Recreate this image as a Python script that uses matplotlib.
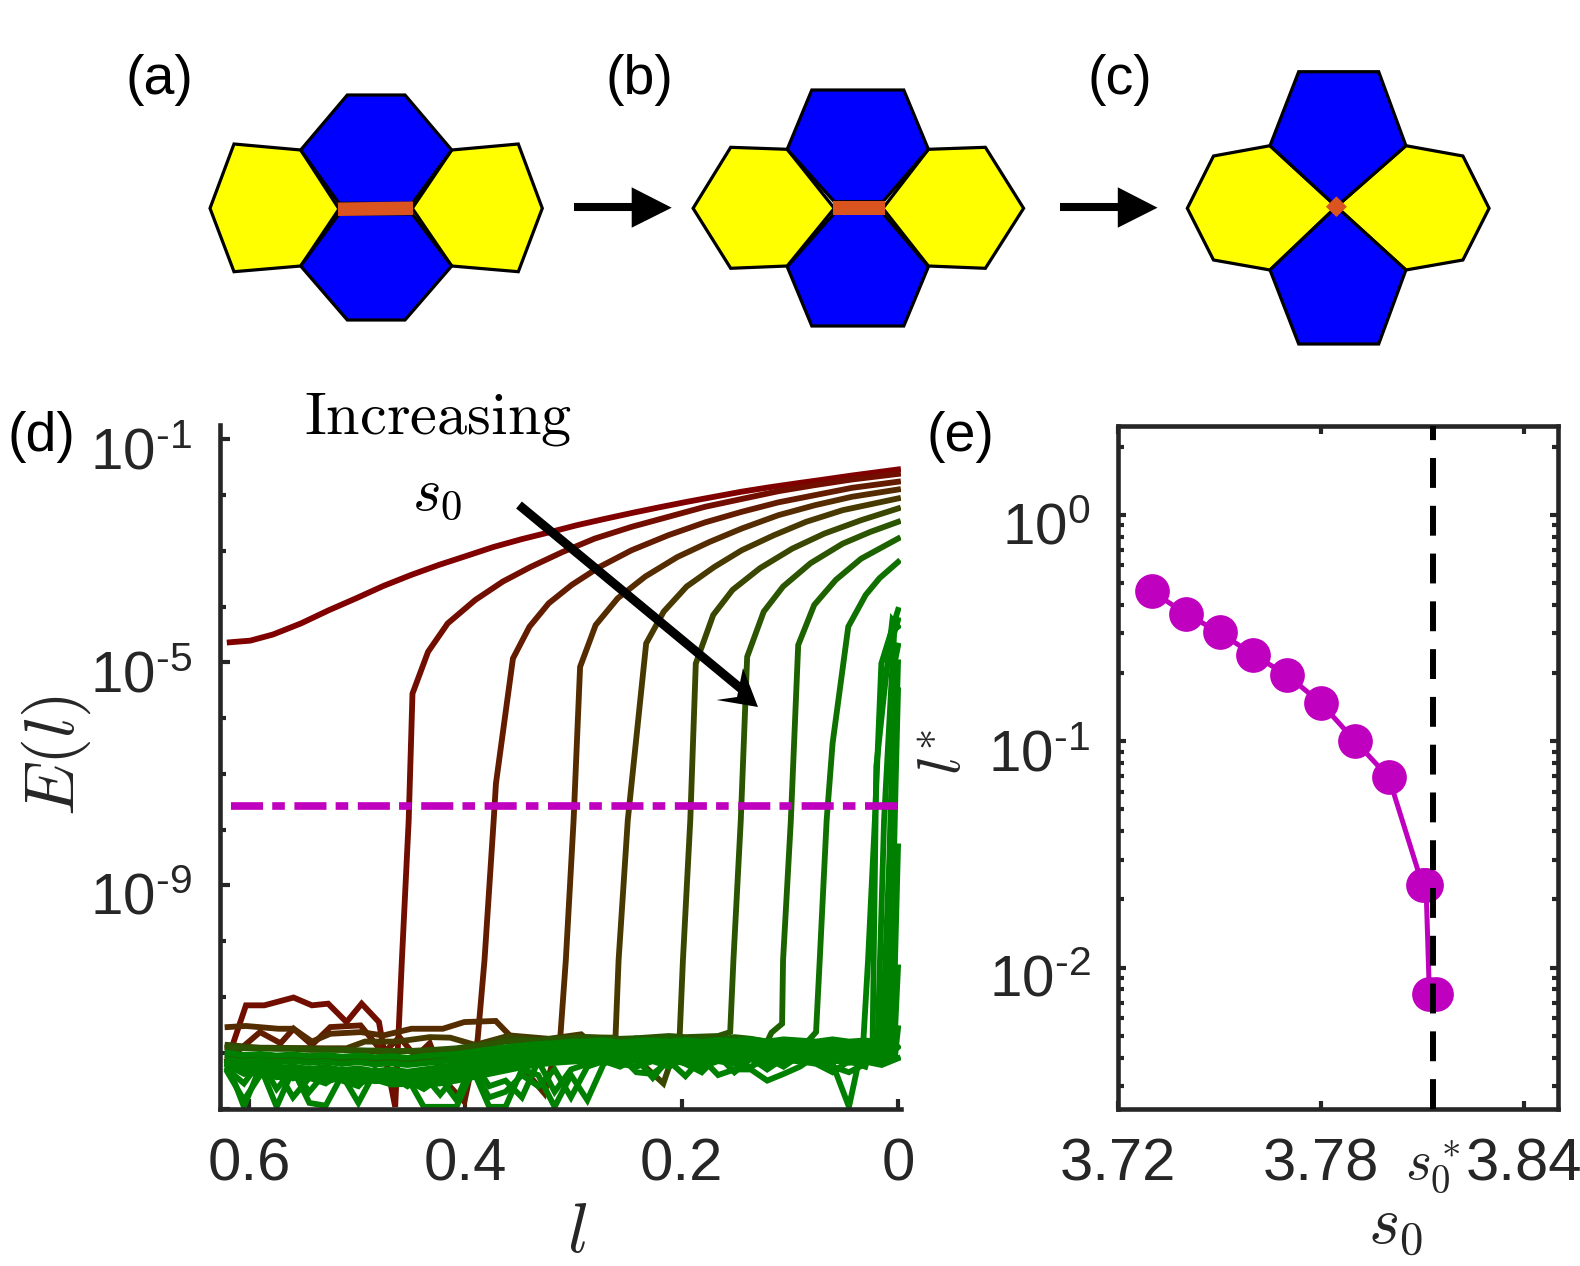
import numpy as np
import matplotlib
matplotlib.use("Agg")
import matplotlib.pyplot as plt
from matplotlib.patches import Polygon
from matplotlib.transforms import ScaledTranslation

plt.rcParams['font.family'] = ['Liberation Sans', 'DejaVu Sans']
plt.rcParams['mathtext.fontset'] = 'custom'
plt.rcParams['mathtext.rm'] = 'Liberation Sans'
plt.rcParams['mathtext.it'] = 'Liberation Sans:italic'
plt.rcParams['mathtext.bf'] = 'Liberation Sans:bold'
plt.rcParams['mathtext.fallback'] = 'cm'

INK = '#262626'
MAGENTA = '#bf00bf'
BLUE = '#0000ff'
YELLOW = '#ffff00'
ORANGE = '#d9541e'

# ---- panel (e) data
s0_values = [3.73, 3.74, 3.75, 3.76, 3.77, 3.78, 3.79, 3.80, 3.81, 3.811, 3.812, 3.814]
lstar_values = [0.46, 0.367, 0.303, 0.2415, 0.196, 0.1475, 0.1005, 0.0693, 0.0231, 0.0231, 0.00764, 0.00764]
s0_star = 3.813

# ---- panel (d) data: upper branches (l, log10 E)
c1_l = [.618, .599, .578, .552, .527, .501, .476, .450, .425, .399, .374, .348, .323, .297, .272, .246, .221, .195, .170, .145, .119, .094, .068, .043, 0]
c1_log = [-4.64, -4.61, -4.50, -4.30, -4.07, -3.85, -3.63, -3.43, -3.255, -3.09, -2.93, -2.79, -2.67, -2.54, -2.43, -2.32, -2.22, -2.12, -2.03, -1.94, -1.86, -1.79, -1.72, -1.65, -1.54]
c2_l = [.465, .4588, .4525, .449, .4346, .4164, .3909, .3654, .3399, .3102, .2805, .2465, .2125, .1785, .1446, .1106, .0766, .0426, 0]
c2_log = [-12.97, -10.34, -7.83, -5.56, -4.81, -4.30, -3.88, -3.55, -3.29, -3.02, -2.78, -2.57, -2.39, -2.21, -2.07, -1.93, -1.82, -1.72, -1.62]
c3_l = [.3888, .3824, .3739, .3718, .3561, .3408, .323, .3017, .2762, .2465, .2125, .1785, .1446, .1106, .0766, .0426, 0]
c3_log = [-11.77, -10.34, -7.83, -7.17, -4.93, -4.36, -3.94, -3.61, -3.29, -2.99, -2.72, -2.49, -2.30, -2.13, -2.0, -1.87, -1.76]
c4_l = [.3123, .3072, .3, .294, .2796, .2592, .2337, .204, .1743, .1446, .1106, .0766, .0426, 0]
c4_log = [-11.72, -10.34, -7.83, -5.08, -4.33, -3.85, -3.46, -3.11, -2.84, -2.6, -2.36, -2.18, -2.03, -1.90]
c5_l = [.2613, .2584, .2499, .2329, .2167, .1955, .1700, .1446, .1148, .0851, .0511, 0]
c5_log = [-11.74, -10.34, -7.83, -4.66, -4.09, -3.64, -3.29, -2.99, -2.72, -2.48, -2.27, -2.06]
c6_l = [.2019, .1989, .1921, .187, .1709, .153, .1276, .0978, .0681, .0341, 0]
c6_log = [-11.69, -10.34, -7.83, -5.02, -4.15, -3.70, -3.31, -2.96, -2.69, -2.45, -2.24]
c7_l = [.1552, .1522, .1454, .1395, .1242, .1063, .0808, .0511, .0256, 0]
c7_log = [-11.63, -10.34, -7.83, -4.90, -4.09, -3.64, -3.22, -2.87, -2.66, -2.48]
c8_l = [.1170, .1072, .1063, .0991, .0923, .0775, .0575, .0341, 0]
c8_log = [-11.64, -11.48, -10.34, -7.83, -4.69, -3.97, -3.52, -3.14, -2.78]
c9_l = [.0758, .0724, .0660, .0605, .0460, .0299, .0171, 0]
c9_log = [-11.63, -10.34, -7.83, -6.45, -4.36, -3.79, -3.49, -3.20]
c10_l = [.0320, .0277, .0214, .0154, 0]
c10_log = [-11.77, -10.34, -7.83, -5.02, -4.06]
c11_l = [.0235, .0201, .0129, .0052, 0]
c11_log = [-11.8, -6.87, -5.56, -4.24, -4.36]
c12_l = [.019, .0129, .0036, 0]
c12_log = [-11.9, -7.83, -4.48, -4.24]
c13_l = [.015, .008, .003, 0]
c13_log = [-12.0, -8.5, -5.0, -4.7]
c14_l = [.010, .003, 0]
c14_log = [-12.0, -7.0, -5.0]
c15_l = [.008, .002, 0]
c15_log = [-12.0, -7.0, -5.5]
c16_l = [.005, 0]
c16_log = [-12.0, -8.3]
c17_l = [.004, 0]
c17_log = [-12.1, -10.47]
c18_l = [.003, 0]
c18_log = [-12.1, -11.56]
c19_l = [0]
c19_log = [-11.9]
c20_l = [0]
c20_log = [-12.1]

# noise floor of the early curves (l, log10 E)
f2_l = [.620, .603, .586, .559, .542, .527, .510, .496, .480, .476]
f2_log = [-12.13, -11.15, -11.15, -11.01, -11.15, -11.12, -11.45, -11.12, -11.45, -11.89]
f3_l = [.620, .590, .571, .559, .542, .525, .497, .476, .461, .446, .433, .420, .401]
f3_log = [-12.13, -11.63, -11.83, -11.57, -11.86, -11.54, -11.51, -12.01, -11.72, -12.07, -11.83, -12.49, -12.88]
f4_l = [.620, .603, .573, .559, .542, .525, .497, .476, .450, .421, .401, .372, .359, .348, .327, .319]
f4_log = [-11.54, -11.52, -11.57, -11.57, -11.80, -11.66, -11.63, -11.69, -11.57, -11.57, -11.45, -11.43, -11.69, -12.25, -12.73, -12.13]
f5_l = [.620, .582, .548, .510, .493, .463, .433, .414, .391, .359, .323, .293, .276]
f5_log = [-11.91, -11.91, -11.92, -11.92, -11.80, -11.80, -11.72, -11.73, -11.86, -11.69, -11.75, -11.67, -11.95]
f6_l = [.620, .586, .544, .476, .416, .391, .361, .331, .293, .263, .217]
f6_log = [-11.86, -11.92, -11.92, -11.98, -11.95, -11.89, -11.72, -11.77, -11.72, -11.73, -12.55]

# noise floor of the later curves, sampled on floor_l
floor_l = np.linspace(0.62, 0.0, 42)
g1 = [-11.90,-11.92,-11.92,-11.93,-11.93,-11.95,-11.95,-11.95,-11.96,-11.96,-11.97,-11.97,-11.96,-11.94,-11.92,-11.88,-11.85,-11.80,-11.78,-11.78,-11.75,-11.73,-11.72,-11.74,-11.75,-11.74,-11.72,-11.70,-11.72,-11.71,-11.70,-11.68,-11.67,-11.68,-11.66,-11.67,-11.70,-11.68,-11.72,-11.72,-11.80,-11.72]
g2 = [-12.05,-12.10,-12.08,-12.10,-12.12,-12.08,-12.10,-12.12,-12.10,-12.12,-12.15,-12.12,-12.15,-12.12,-12.08,-12.05,-12.00,-11.95,-11.90,-11.85,-11.82,-11.80,-11.78,-11.76,-11.80,-11.74,-11.78,-11.72,-11.80,-11.75,-11.78,-11.72,-11.75,-11.80,-11.72,-11.78,-11.74,-11.80,-11.76,-11.78,-11.85,-11.80]
g3 = [-12.20,-12.25,-12.20,-12.30,-12.25,-12.32,-12.25,-12.35,-12.30,-12.35,-12.38,-12.40,-12.35,-12.28,-12.20,-12.15,-12.10,-12.05,-12.00,-11.95,-11.92,-11.90,-11.95,-12.00,-12.05,-12.15,-12.00,-12.25,-11.95,-12.15,-12.00,-11.90,-12.10,-12.00,-12.20,-11.95,-11.90,-12.10,-11.95,-12.20,-11.95,-12.10]
g4 = [-12.20,-12.97,-12.25,-12.97,-12.30,-12.90,-12.95,-12.40,-12.90,-12.35,-12.40,-12.45,-12.97,-12.97,-12.97,-12.30,-12.97,-12.97,-12.30,-12.40,-12.97,-12.40,-12.85,-12.20,-12.05,-12.35,-12.38,-12.15,-12.42,-12.10,-12.40,-12.30,-12.30,-12.50,-12.38,-12.25,-12.05,-12.20,-12.97,-12.40,-12.10,-12.30]
g5 = [-12.30,-12.55,-12.15,-12.65,-12.30,-12.70,-12.35,-12.50,-12.60,-12.30,-12.45,-12.50,-12.65,-12.45,-12.85,-12.15,-12.60,-12.50,-12.80,-12.15,-12.70,-12.30,-12.20,-12.15,-12.25,-12.10,-12.45,-12.10,-12.20,-12.35,-12.05,-12.35,-12.10,-12.30,-12.10,-12.15,-12.20,-12.35,-12.15,-12.25,-12.00,-12.20]
g6 = [-12.35,-12.85,-12.40,-12.30,-12.80,-12.45,-12.55,-12.35,-12.50,-12.45,-12.42,-12.60,-12.40,-12.75,-12.40,-12.30,-12.80,-12.70,-12.40,-12.60,-12.30,-12.80,-12.25,-12.15,-12.20,-12.25,-12.15,-12.25,-12.10,-12.25,-12.15,-12.20,-12.25,-12.10,-12.25,-12.05,-12.15,-12.25,-12.35,-12.20,-12.10,-12.25]
g7 = [-12.15,-12.30,-12.35,-12.25,-12.35,-12.30,-12.40,-12.30,-12.35,-12.40,-12.45,-12.35,-12.40,-12.30,-12.25,-12.30,-12.20,-12.15,-12.20,-12.05,-12.10,-12.00,-12.05,-11.95,-11.90,-11.98,-11.85,-12.00,-11.88,-12.00,-11.85,-12.00,-11.88,-12.05,-11.85,-11.90,-11.95,-12.10,-11.90,-12.10,-12.00,-11.95]
g8 = [-12.00,-12.04,-12.02,-12.05,-12.03,-12.06,-12.04,-12.07,-12.05,-12.08,-12.06,-12.09,-12.06,-12.04,-12.02,-11.98,-11.94,-11.90,-11.87,-11.84,-11.83,-11.80,-11.80,-11.78,-11.82,-11.79,-11.78,-11.80,-11.77,-11.81,-11.77,-11.79,-11.76,-11.80,-11.76,-11.78,-11.80,-11.76,-11.80,-11.78,-11.82,-11.80]
g9 = [-12.12,-12.16,-12.13,-12.17,-12.15,-12.18,-12.16,-12.20,-12.17,-12.21,-12.19,-12.22,-12.19,-12.16,-12.12,-12.08,-12.04,-12.00,-11.95,-11.91,-11.89,-11.87,-11.86,-11.85,-11.88,-11.86,-11.84,-11.87,-11.84,-11.88,-11.84,-11.86,-11.83,-11.87,-11.83,-11.85,-11.87,-11.84,-11.87,-11.85,-11.90,-11.88]
g10 = [-12.20,-12.24,-12.22,-12.27,-12.25,-12.29,-12.26,-12.31,-12.28,-12.33,-12.30,-12.34,-12.30,-12.26,-12.22,-12.17,-12.12,-12.07,-12.02,-11.98,-11.95,-11.93,-11.92,-11.91,-11.95,-11.92,-11.90,-11.94,-11.90,-11.95,-11.90,-11.93,-11.89,-11.94,-11.89,-11.92,-11.94,-11.91,-11.94,-11.92,-11.97,-11.95]
g11 = [-12.28,-12.32,-12.30,-12.36,-12.33,-12.39,-12.35,-12.41,-12.38,-12.43,-12.42,-12.45,-12.41,-12.36,-12.31,-12.25,-12.20,-12.14,-12.09,-12.04,-12.01,-11.99,-11.98,-11.97,-12.01,-11.98,-11.97,-12.00,-11.96,-12.02,-11.97,-12.00,-11.95,-12.01,-11.95,-11.98,-12.00,-11.97,-12.00,-11.98,-12.04,-12.02]
g12 = [-12.22,-12.38,-12.36,-12.44,-12.41,-12.46,-12.42,-12.49,-12.46,-12.51,-12.50,-12.54,-12.50,-12.44,-12.38,-12.33,-12.27,-12.21,-12.15,-12.10,-12.07,-12.05,-12.04,-12.03,-12.07,-12.04,-12.03,-12.06,-12.02,-12.08,-12.03,-12.06,-12.01,-12.07,-12.01,-12.04,-12.06,-12.03,-12.06,-12.04,-12.10,-12.08]
g13 = [-12.26,-12.30,-12.40,-12.34,-12.46,-12.38,-12.52,-12.44,-12.54,-12.48,-12.57,-12.56,-12.54,-12.50,-12.44,-12.38,-12.33,-12.26,-12.20,-12.15,-12.12,-12.10,-12.09,-12.08,-12.12,-12.09,-12.08,-12.12,-12.08,-12.13,-12.09,-12.12,-12.07,-12.13,-12.07,-12.10,-12.12,-12.09,-12.12,-12.10,-12.16,-12.14]
g14 = [-12.18,-12.26,-12.28,-12.24,-12.30,-12.28,-12.34,-12.30,-12.42,-12.36,-12.50,-12.42,-12.58,-12.55,-12.50,-12.44,-12.38,-12.32,-12.26,-12.21,-12.18,-12.16,-12.14,-12.12,-12.16,-12.14,-12.12,-12.18,-12.13,-12.19,-12.14,-12.18,-12.12,-12.19,-12.12,-12.16,-12.18,-12.14,-12.18,-12.16,-12.22,-12.20]

threshold_log = -7.58
threshold_l = [0.617, 0.0]

# ---- panels (a)-(c): cell outlines in figure pixels
a_top = [(300.7,150),(347.3,95),(405,95),(451.7,150),(412.3,203.3),(339,203.3)]
a_bottom = [(339,214),(412.3,214),(451.7,266),(405,320),(347.3,320),(300.7,266)]
a_left = [(300.7,150),(234,144),(210,208.3),(234,271.7),(300.7,266),(339,209)]
a_right = [(451.7,150),(518.3,144),(542.3,208.3),(518.3,271.7),(451.7,266),(412.3,208.3)]
a_edge = [(338,202.5),(413,201.5),(413,215),(338,216)]
b_top = [(787.2,149.3),(811.8,90),(903.8,90),(928.4,149.3),(882.9,201.7),(834.3,201.7)]
b_bottom = [(834.3,213.3),(882.9,213.3),(928.4,266.7),(903.8,326),(811.8,326),(787.2,266.7)]
b_left = [(787.2,149.3),(730.7,147.3),(693.1,208.3),(730.7,268.3),(787.2,266),(834.3,208.3)]
b_right = [(928.4,149.3),(985.4,147.3),(1023.6,208.3),(985.4,268.3),(928.4,266),(882.9,208.3)]
b_edge = [(832.5,200.5),(884.5,200.5),(884.5,215),(832.5,215)]
c_top = [(1270,145.7),(1298.7,71.7),(1378.7,71.7),(1405.9,145.7),(1336.4,206.7)]
c_bottom = [(1336.4,206.7),(1405.9,270),(1378.7,344),(1298.7,344),(1270,270)]
c_left = [(1270,145.7),(1213.5,156),(1187.3,208.3),(1213.5,260),(1270,270),(1336.4,206.7)]
c_right = [(1405.9,145.7),(1462.9,156),(1489.1,208.3),(1462.9,260),(1405.9,270),(1336.4,206.7)]
c_edge = [(1325.9,206.7),(1336.4,196.4),(1346.9,206.7),(1336.4,217)]
arrow_shafts = [((574,207.3),(632,207.3)), ((1060.2,207.3),(1118,207.3))]
arrow_heads = [[(631.7,187.3),(671.7,207.7),(631.7,227.7)], [(1117.8,187.3),(1157.5,207.7),(1117.8,227.7)]]
big_arrow_shaft = ((519,505),(745,692))
big_arrow_head = [(758,707),(743,668),(737,697),(716.5,700)]

W, H = 1580, 1266
fig = plt.figure(figsize=(W/100, H/100), dpi=100, facecolor='white')

def box(x0, x1, y0, y1):
    return [x0/W, 1-y1/H, (x1-x0)/W, (y1-y0)/H]

# ---- panel d
axd = fig.add_axes(box(220, 900.5, 425, 1108.5))
axd.set_yscale('log')
axd.set_xlim(0.627, -0.0023)
axd.set_ylim(1e-13, 10**-0.743)

def ramp(i):
    t = min(i/9.0, 1.0)
    return (0.5*(1-t), 0.5*t, 0.0)

def join(floor_x, floor_y, up_x, up_y):
    x = np.array(list(floor_x)+list(up_x), float)
    y = np.array(list(floor_y)+list(up_y), float)
    return x, 10**y

def on_grid(g, up_l):
    g = np.array(g)
    m = floor_l > up_l[0] + 1e-6
    return floor_l[m], g[m]

early = [([], [], c1_l, c1_log),
         (f2_l, f2_log, c2_l, c2_log),
         (f3_l, f3_log, c3_l, c3_log),
         (f4_l, f4_log, c4_l, c4_log),
         (f5_l, f5_log, c5_l, c5_log),
         (f6_l, f6_log, c6_l, c6_log)]
late = [(g1, c7_l, c7_log), (g2, c8_l, c8_log), (g3, c9_l, c9_log), (g4, c10_l, c10_log),
        (g5, c11_l, c11_log), (g6, c12_l, c12_log), (g7, c13_l, c13_log), (g8, c14_l, c14_log),
        (g9, c15_l, c15_log), (g10, c16_l, c16_log), (g11, c17_l, c17_log), (g12, c18_l, c18_log),
        (g13, c19_l, c19_log), (g14, c20_l, c20_log)]
n = 0
for fx, fy, ux, uy in early:
    x, y = join(fx, fy, ux, uy)
    axd.plot(x, y, color=ramp(n), lw=4.2, solid_joinstyle='miter', zorder=2+n*0.01)
    n += 1
for g, ux, uy in late:
    fx, fy = on_grid(g, ux)
    x, y = join(fx, fy, ux, uy)
    axd.plot(x, y, color=ramp(n), lw=4.2, solid_joinstyle='miter', zorder=2+n*0.01)
    n += 1
axd.plot(threshold_l, [10**threshold_log]*2, color=MAGENTA, lw=5.5, dashes=(4.2, 1.2, 1.65, 1.25), dash_capstyle='butt', zorder=5)

for s in ('top', 'right'):
    axd.spines[s].set_visible(False)
for s in ('left', 'bottom'):
    axd.spines[s].set_color(INK)
    axd.spines[s].set_linewidth(3.3)
axd.set_xticks([0.6, 0.4, 0.2, 0.0])
axd.set_xticklabels(['0.6', '0.4', '0.2', '0'])
axd.set_yticks([1e-1, 1e-5, 1e-9, 1e-13])
axd.set_yticklabels(['$10^{\u20101}$', '$10^{\u20105}$', '$10^{\u20109}$', ''])
axd.set_yticks([10.0**e for e in (-2, -3, -4, -6, -7, -8, -10, -11, -12)], minor=True)
axd.set_yticklabels([], minor=True)
axd.tick_params(axis='x', which='major', direction='in', length=7, width=3, color=INK, labelcolor=INK, labelsize=43, pad=21)
axd.tick_params(axis='y', which='major', direction='in', length=7, width=3, color=INK, labelcolor=INK, labelsize=42, pad=20)
axd.tick_params(axis='y', which='minor', direction='in', length=4.5, width=3, color=INK)

# ---- panel e
axe = fig.add_axes(box(1118, 1558, 426, 1108.5))
axe.set_yscale('log')
axe.set_xlim(3.72, 3.85)
axe.set_ylim(10**-2.623, 10**0.394)
axe.plot(s0_values, lstar_values, color=MAGENTA, lw=3.6, marker='o', ms=25, mfc=MAGENTA, mec=MAGENTA, mew=0, zorder=3)
axe.axvline(s0_star, color='black', lw=4.3, dashes=(5, 3), dash_capstyle='butt', zorder=4)
for s in axe.spines.values():
    s.set_color(INK)
    s.set_linewidth(3.3)
axe.set_xticks([3.72, 3.78, s0_star, 3.84])
axe.set_xticklabels(['3.72', '3.78', r'$s_0^*$', '3.84'])
axe.set_yticks([1e0, 1e-1, 1e-2])
axe.set_yticklabels(['$10^{0}$', '$10^{\u20101}$', '$10^{\u20102}$'])
axe.set_yticks([m*10.0**e for e in (-3, -2, -1, 0) for m in range(2, 10)
                if 10**-2.623 < m*10.0**e < 10**0.394], minor=True)
axe.set_yticklabels([], minor=True)
axe.tick_params(axis='both', which='major', direction='in', top=True, right=True, length=6, width=3, color=INK, labelcolor=INK, labelsize=43)
axe.tick_params(axis='x', which='major', pad=21)
axe.tick_params(axis='y', which='major', pad=20, labelsize=42)
axe.tick_params(axis='y', which='minor', direction='in', right=True, length=4, width=3, color=INK)
for t in axe.get_xticklabels():
    if 's_0' in t.get_text():
        t.set_math_fontfamily('cm')
        t.set_fontsize(40)

# the power labels sit a little under their ticks
drop = ScaledTranslation(0, -8/72*0.72*1.0, fig.dpi_scale_trans)
for ax in (axd, axe):
    for t in ax.yaxis.get_major_ticks():
        t.label1.set_transform(t.label1.get_transform() + drop)

# ---- overlay in figure pixels
ov = fig.add_axes([0, 0, 1, 1], zorder=10)
ov.set_xlim(0, W)
ov.set_ylim(H, 0)
ov.axis('off')
ov.patch.set_alpha(0)

for cells, colors in (((a_left, a_right, a_top, a_bottom), (YELLOW, YELLOW, BLUE, BLUE)),
                      ((b_left, b_right, b_top, b_bottom), (YELLOW, YELLOW, BLUE, BLUE)),
                      ((c_left, c_right, c_top, c_bottom), (YELLOW, YELLOW, BLUE, BLUE))):
    for pts, col in zip(cells, colors):
        ov.add_patch(Polygon(pts, closed=True, fc=col, ec='black', lw=2.3, joinstyle='miter'))
for pts in (a_edge, b_edge, c_edge):
    ov.add_patch(Polygon(pts, closed=True, fc=ORANGE, ec='none', zorder=3))
for (p, q), head in zip(arrow_shafts, arrow_heads):
    ov.plot([p[0], q[0]], [p[1], q[1]], color='black', lw=5.8, solid_capstyle='butt')
    ov.add_patch(Polygon(head, closed=True, fc='black', ec='none'))
ov.plot([big_arrow_shaft[0][0], big_arrow_shaft[1][0]], [big_arrow_shaft[0][1], big_arrow_shaft[1][1]],
        color='black', lw=6.5, solid_capstyle='butt', zorder=6)
ov.add_patch(Polygon(big_arrow_head, closed=True, fc='black', ec='none', zorder=6))

for label, x, y in (('(a)', 159, 80), ('(b)', 639, 80), ('(c)', 1120, 80), ('(d)', 41, 437), ('(e)', 960, 437)):
    ov.text(x, y, label, fontsize=40, color='black', ha='center', va='center')

ov.text(438, 419, r'$\mathrm{Increasing}$', fontsize=43.5, color='black', ha='center', va='center', math_fontfamily='cm')
ov.text(437, 494, r'$s_0$', fontsize=44, color='black', ha='center', va='center', math_fontfamily='cm')
ov.text(577, 1234, r'$l$', fontsize=50, color=INK, ha='center', va='center', math_fontfamily='cm')
ov.text(1395, 1228, r'$s_0$', fontsize=48, color=INK, ha='center', va='center', math_fontfamily='cm')
ov.text(56, 755, r'$E(l)$', fontsize=50, color=INK, ha='center', va='center', rotation=90, math_fontfamily='cm')
ov.text(945, 752, r'$l^{*}$', fontsize=44, color=INK, ha='center', va='center', rotation=90, math_fontfamily='cm')

fig.savefig('out.png', dpi=100)
